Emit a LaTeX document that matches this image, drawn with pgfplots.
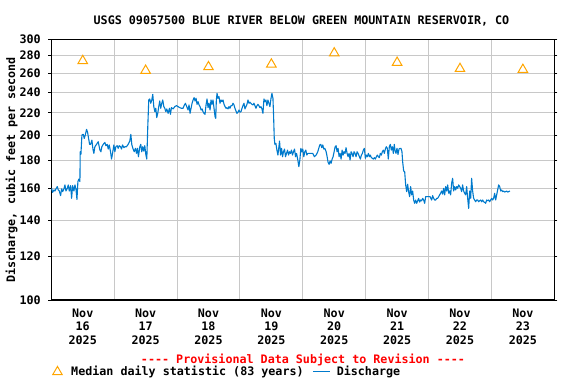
\documentclass[border=0pt]{standalone}
\usepackage{pgfplots}
\pgfplotsset{compat=1.18}
\usepackage{fontspec}
\newfontfamily\qfam{DejaVu Sans Mono}
\definecolor{qblue}{RGB}{0,122,204}
\definecolor{qorange}{RGB}{255,165,0}
\definecolor{qgrid}{RGB}{200,200,200}
\newcommand{\qf}{\qfam\fontsize{11.7bp}{13.3bp}\selectfont\bfseries}
\pgfplotstableread{
d v
0.5 274
1.5 263
2.5 267
3.5 270
4.5 283
5.5 272
6.5 265
7.5 264
}\medians
\begin{document}
\begin{tikzpicture}[x=1bp,y=1bp]
\useasboundingbox (0,0) rectangle (576,384);
\begin{axis}[
  at={(51.3bp,84bp)}, anchor=south west,
  scale only axis, width=503bp, height=260.7bp,
  xmin=0, xmax=8, ymode=log, ymin=100, ymax=300,
  ytick={100,120,140,160,180,200,220,240,260,280,300},
  yticklabels={100,120,140,160,180,200,220,240,260,280,300},
  xtick={0.5,1.5,2.5,3.5,4.5,5.5,6.5,7.5},
  xticklabels={{Nov\\16\\2025},{Nov\\17\\2025},{Nov\\18\\2025},{Nov\\19\\2025},{Nov\\20\\2025},{Nov\\21\\2025},{Nov\\22\\2025},{Nov\\23\\2025}},
  minor xtick={1,2,3,4,5,6,7},
  xminorgrids, ymajorgrids,
  grid style={qgrid, line width=1bp},
  minor grid style={qgrid, line width=1bp},
  tick align=outside,
  major tick length=3bp, minor tick length=0pt,
  x tick style={draw=none},
  y tick style={black, line width=0.8bp},
  tick label style={font=\qf},
  xticklabel style={align=center, yshift=-2.5bp},
  yticklabel style={xshift=-4bp},
  /pgf/number format/assume math mode=true,
  axis line style={black, line width=1.3bp},
  legend style={at={(0.0024,-0.276)}, anchor=west, draw=none, fill=none,
    legend columns=2, font=\qf, inner sep=0pt, nodes={inner xsep=0pt},
    /tikz/every odd column/.append style={column sep=6bp},
    /tikz/every even column/.append style={column sep=9bp}},
  legend cell align=left,
]
\addplot[only marks, mark=triangle, mark size=5.5bp, mark options={draw=qorange, line width=1bp, fill=none}] table[x=d, y=v] {\medians};
\addlegendentry{\hspace*{3bp}Median daily statistic (83 years)}
\addplot[qblue, line width=1.1bp, line join=round, mark=none] coordinates {
(0.005,160.1)(0.021,157.4)(0.043,159.0)(0.058,158.3)(0.074,159.7)(0.095,161.3)(0.111,159.0)(0.127,158.3)(0.148,155.2)(0.164,159.7)(0.180,157.9)(0.201,159.7)(0.217,162.4)(0.233,158.3)(0.254,160.1)(0.270,162.4)(0.286,158.3)(0.307,161.9)(0.323,153.5)(0.339,161.9)(0.360,158.3)(0.376,162.4)(0.392,159.7)(0.408,152.8)(0.423,164.7)(0.439,166.5)(0.455,164.7)(0.460,186.8)(0.471,184.7)(0.487,200.4)(0.508,201.0)(0.524,197.6)(0.540,200.4)(0.561,205.3)(0.577,202.7)(0.593,197.6)(0.609,192.7)(0.625,192.7)(0.646,196.2)(0.662,188.9)(0.677,185.5)(0.693,190.8)(0.720,192.7)(0.746,194.9)(0.773,188.1)(0.789,186.8)(0.804,190.8)(0.826,192.7)(0.852,194.3)(0.868,191.6)(0.889,192.7)(0.905,188.9)(0.921,192.2)(0.942,186.8)(0.958,181.1)(0.974,185.5)(0.995,192.2)(1.011,186.8)(1.027,190.8)(1.048,191.6)(1.064,189.5)(1.080,191.6)(1.101,190.8)(1.117,188.9)(1.133,192.2)(1.154,190.0)(1.170,190.8)(1.196,190.8)(1.222,192.7)(1.249,195.5)(1.265,201.0)(1.281,192.2)(1.302,188.9)(1.318,186.8)(1.339,189.5)(1.355,185.5)(1.371,189.5)(1.386,182.9)(1.408,190.8)(1.423,192.7)(1.439,186.8)(1.455,190.8)(1.471,187.3)(1.487,191.6)(1.503,184.7)(1.519,181.1)(1.535,208.5)(1.550,232.3)(1.566,233.3)(1.582,229.1)(1.598,232.3)(1.614,237.9)(1.630,225.9)(1.646,221.2)(1.662,224.3)(1.677,215.7)(1.693,219.6)(1.709,225.9)(1.725,231.3)(1.741,224.3)(1.757,229.1)(1.773,232.3)(1.789,225.9)
(1.805,224.3)(1.821,221.2)(1.837,223.7)(1.858,219.6)(1.879,224.3)(1.895,218.7)(1.911,224.9)(1.937,223.7)(1.964,225.9)(1.990,226.8)(2.017,225.9)(2.043,224.9)(2.070,224.3)(2.096,224.3)(2.112,226.8)(2.133,229.1)(2.154,225.9)(2.175,222.7)(2.191,227.5)(2.207,219.6)(2.223,224.3)(2.239,229.1)(2.255,232.3)(2.271,234.6)(2.286,231.3)(2.302,234.0)(2.318,228.1)(2.334,230.7)(2.350,227.5)(2.366,225.9)(2.382,222.7)(2.398,223.7)(2.413,221.2)(2.429,219.6)(2.445,218.7)(2.461,227.5)(2.477,233.3)(2.493,224.9)(2.509,229.1)(2.525,222.7)(2.540,232.3)(2.556,228.1)(2.572,232.3)(2.588,224.3)(2.604,216.6)(2.615,215.0)(2.625,232.3)(2.636,238.9)(2.652,234.0)(2.667,235.6)(2.683,229.1)(2.699,232.3)(2.715,230.7)(2.731,232.3)(2.747,228.1)(2.763,225.9)(2.779,224.3)(2.794,224.9)(2.810,223.7)(2.826,225.9)(2.842,224.3)(2.858,226.8)(2.874,226.8)(2.890,229.1)(2.906,227.5)(2.921,224.3)(2.937,221.8)(2.953,219.6)(2.969,220.6)(2.985,222.7)(3.001,220.6)(3.017,221.2)(3.033,224.3)(3.048,226.8)(3.064,229.1)(3.080,223.7)(3.096,225.9)(3.112,228.1)(3.128,232.3)(3.144,229.1)(3.160,230.1)(3.175,229.1)(3.191,228.1)(3.207,227.5)(3.223,229.1)(3.239,226.8)(3.255,224.3)(3.271,226.8)(3.286,228.1)(3.302,226.8)(3.318,224.9)(3.334,225.9)(3.350,223.7)(3.366,219.6)(3.382,233.3)(3.398,230.7)(3.413,232.3)(3.429,226.8)(3.445,232.3)(3.461,229.1)(3.477,225.9)(3.493,233.3)(3.509,238.9)(3.525,234.0)(3.535,218.2)(3.546,197.6)(3.556,192.7)(3.572,193.5)(3.588,188.1)(3.604,184.2)(3.620,190.8)
(3.630,195.4)(3.646,184.2)(3.662,189.5)(3.678,182.9)(3.693,186.8)(3.709,188.9)(3.725,182.9)(3.741,185.5)(3.757,188.1)(3.773,184.2)(3.789,186.8)(3.805,185.5)(3.820,188.1)(3.836,184.2)(3.852,186.8)(3.868,188.9)(3.884,182.9)(3.900,185.5)(3.921,180.4)(3.937,175.4)(3.953,180.4)(3.969,189.5)(3.984,186.8)(4.000,188.9)(4.016,182.9)(4.032,186.8)(4.048,188.1)(4.064,184.2)(4.080,185.5)(4.106,185.5)(4.132,185.5)(4.159,185.5)(4.185,182.9)(4.212,184.2)(4.238,186.8)(4.254,189.5)(4.270,192.2)(4.286,192.7)(4.302,190.0)(4.318,192.2)(4.334,188.9)(4.350,189.5)(4.371,186.8)(4.387,182.9)(4.402,178.6)(4.418,177.1)(4.434,179.7)(4.450,177.9)(4.466,181.1)(4.482,182.9)(4.498,186.8)(4.514,190.8)(4.529,191.6)(4.545,186.8)(4.561,189.5)(4.577,182.9)(4.593,185.5)(4.609,181.1)(4.625,188.1)(4.641,184.2)(4.656,186.8)(4.672,185.5)(4.688,190.0)(4.704,185.5)(4.720,182.9)(4.736,185.5)(4.752,180.4)(4.768,186.8)(4.783,185.5)(4.799,182.9)(4.815,186.8)(4.831,185.5)(4.847,182.9)(4.863,186.8)(4.879,185.5)(4.900,182.9)(4.916,181.1)(4.932,184.2)(4.948,185.5)(4.963,188.1)(4.979,189.5)(4.995,181.7)(5.011,184.2)(5.027,182.9)(5.043,185.5)(5.059,182.9)(5.074,184.2)(5.090,182.2)(5.106,181.7)(5.122,181.1)(5.138,182.2)(5.154,181.1)(5.170,182.9)(5.186,184.2)(5.201,182.9)(5.217,182.2)(5.233,185.5)(5.249,184.2)(5.265,186.8)(5.281,188.1)(5.297,185.5)(5.313,188.9)(5.328,190.8)(5.344,189.5)(5.360,181.1)(5.376,190.8)(5.392,192.7)(5.408,188.1)(5.424,190.8)(5.440,185.5)(5.455,192.7)
(5.466,188.1)(5.482,185.5)(5.498,189.5)(5.514,184.7)(5.530,188.9)(5.546,189.5)(5.561,189.5)(5.577,186.8)(5.588,179.1)(5.604,172.2)(5.620,171.8)(5.636,162.4)(5.652,157.9)(5.667,162.9)(5.683,157.9)(5.699,154.6)(5.715,161.3)(5.731,155.7)(5.747,158.3)(5.763,152.4)(5.779,150.3)(5.795,152.4)(5.811,150.3)(5.827,151.9)(5.842,153.5)(5.858,151.1)(5.874,152.4)(5.890,151.9)(5.906,153.5)(5.922,152.4)(5.938,150.3)(5.954,154.6)(5.970,154.6)(5.996,154.6)(6.023,154.6)(6.049,152.4)(6.065,155.2)(6.081,153.5)(6.097,152.4)(6.113,152.4)(6.129,153.5)(6.145,153.5)(6.161,154.6)(6.176,155.7)(6.192,156.8)(6.208,158.3)(6.224,156.2)(6.240,160.1)(6.256,155.7)(6.272,161.3)(6.288,158.3)(6.304,162.4)(6.320,156.8)(6.336,158.3)(6.351,155.7)(6.367,163.5)(6.383,167.0)(6.399,158.3)(6.415,161.3)(6.431,159.0)(6.447,161.3)(6.463,160.1)(6.479,162.4)(6.495,161.3)(6.511,160.1)(6.526,157.9)(6.542,162.4)(6.558,158.3)(6.574,156.8)(6.590,155.7)(6.606,161.3)(6.622,153.5)(6.638,147.1)(6.654,158.3)(6.670,153.5)(6.685,167.0)(6.701,158.3)(6.717,153.5)(6.733,152.4)(6.749,151.3)(6.765,152.4)(6.781,152.4)(6.797,151.3)(6.813,151.9)(6.829,152.4)(6.845,151.3)(6.860,152.4)(6.876,151.3)(6.892,150.9)(6.908,150.3)(6.924,152.4)(6.940,151.9)(6.956,152.4)(6.972,151.3)(6.988,152.4)(7.004,153.5)(7.019,152.4)(7.035,153.5)(7.051,156.8)(7.067,152.4)(7.083,155.7)(7.099,159.0)(7.115,162.4)(7.131,161.3)(7.147,158.3)(7.163,159.0)(7.178,157.9)(7.194,158.3)(7.210,157.6)(7.226,157.9)(7.242,158.3)(7.258,157.6)(7.274,157.9)(7.295,158.3)
};
\addlegendentry{Discharge}
\end{axis}
\node[anchor=base, font=\qf] at (301.5,359.7) {USGS 09057500 BLUE RIVER BELOW GREEN MOUNTAIN RESERVOIR, CO};
\node[anchor=base, font=\qf, text=red] at (303,21) {---- Provisional Data Subject to Revision ----};
\node[rotate=90, font=\qf] at (11.7,214.3) {Discharge, cubic feet per second};
\end{tikzpicture}
\end{document}
